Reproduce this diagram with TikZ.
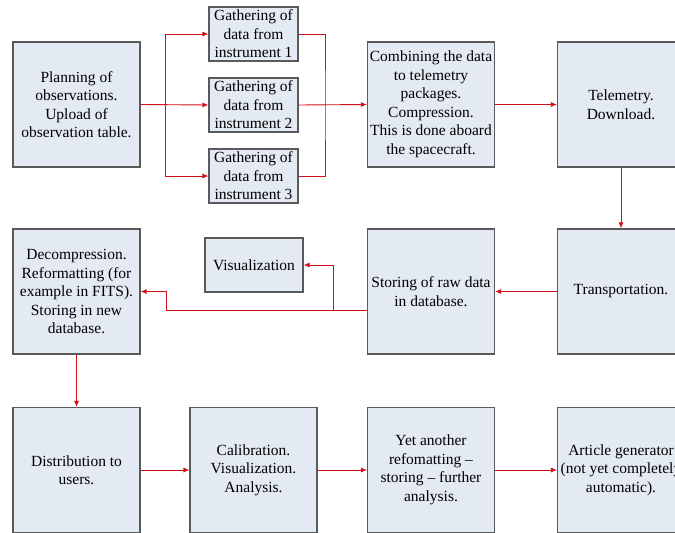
\documentclass[tikz,border=0pt]{standalone}
\usepackage{fontspec}
\setmainfont{Liberation Serif}
\usetikzlibrary{arrows.meta,positioning}

\definecolor{boxfill}{HTML}{E4EAF3}
\definecolor{boxline}{HTML}{5A5A5A}
\definecolor{flowred}{HTML}{D0101A}

\begin{document}
\begin{tikzpicture}[x=1pt,y=-1pt,
    bigbox/.style={draw=boxline,fill=boxfill,line width=1.1pt,align=center,
      minimum width=127pt,minimum height=125pt,inner sep=2pt,
      font=\fontsize{15.5}{18.5}\selectfont},
    smallbox/.style={bigbox,minimum width=89pt,minimum height=54pt},
    flow/.style={draw=flowred,line width=0.9pt},
    arr/.style={flow,-{Latex[length=6pt,width=5pt]}}]
  \pgfmathsetmacro {\ca}{76.5}  %column 1
  \pgfmathsetmacro {\cb}{253.5} %column 2
  \pgfmathsetmacro {\cc}{431}   %column 3
  \pgfmathsetmacro {\cd}{621}   %column 4
  \pgfmathsetmacro {\ra}{104.5} %row 1
  \pgfmathsetmacro {\rb}{291.5} %row 2
  \pgfmathsetmacro {\rc}{470}   %row 3

  \useasboundingbox (0,0) rectangle (675,533);

  %Row 1
  \node[bigbox] (plan) at (\ca,\ra) {Planning of\\observations.\\Upload of\\observation table.};
  \node[smallbox] (gath1) at (\cb,34) {Gathering of\\data from\\instrument 1};
  \node[smallbox] (gath2) at (\cb,105) {Gathering of\\data from\\instrument 2};
  \node[smallbox] (gath3) at (\cb,176) {Gathering of\\data from\\instrument 3};
  \node[bigbox] (comb) at (\cc,\ra) {Combining the data\\to telemetry\\packages.\\Compression.\\This is done aboard\\the spacecraft.};
  \node[bigbox] (tele) at (\cd,\ra) {Telemetry.\\Download.};

  %Row 2
  \node[bigbox] (trans) at (\cd,\rb) {Transportation.};
  \node[bigbox] (store) at (\cc,\rb) {Storing of raw data\\in database.};
  \node[smallbox,minimum width=98pt] (vis) at (254,265) {Visualization};
  \node[bigbox] (decomp) at (\ca,\rb) {Decompression.\\Reformatting (for\\example in FITS).\\Storing in new\\database.};

  %Row 3
  \node[bigbox] (dist) at (\ca,\rc) {Distribution to\\users.};
  \node[bigbox] (calib) at (\cb,\rc) {Calibration.\\Visualization.\\Analysis.};
  \node[bigbox] (refmt) at (\cc,\rc) {Yet another\\refomatting --\\storing -- further\\analysis.};
  \node[bigbox] (artgen) at (\cd,\rc) {Article generator\\(not yet completely\\automatic).};

  %Split to the instruments and join again
  \coordinate (split) at (165,\ra);
  \coordinate (join) at (325,\ra);
  \draw[arr] (plan.east) -- (gath2.west);
  \draw[arr] (split) |- (gath1.west);
  \draw[arr] (split) |- (gath3.west);
  \draw[flow] (gath1.east) -| (join) |- (gath3.east);
  \draw[arr] (gath2.east) -- (comb.west);
  \draw[arr] (comb) -- (tele);

  %Down and back along row 2
  \draw[arr] (tele) -- (trans);
  \draw[arr] (trans) -- (store);
  \coordinate (tap) at (store.west |- 0,310);
  \coordinate (bend) at (166,310);
  \coordinate (branch) at (333,310);
  \draw[arr] (tap) -- (bend) |- (decomp.east);
  \draw[arr] (branch) |- (vis.east);

  %Row 3
  \draw[arr] (decomp) -- (dist);
  \draw[arr] (dist) -- (calib);
  \draw[arr] (calib) -- (refmt);
  \draw[arr] (refmt) -- (artgen);
\end{tikzpicture}
\end{document}
